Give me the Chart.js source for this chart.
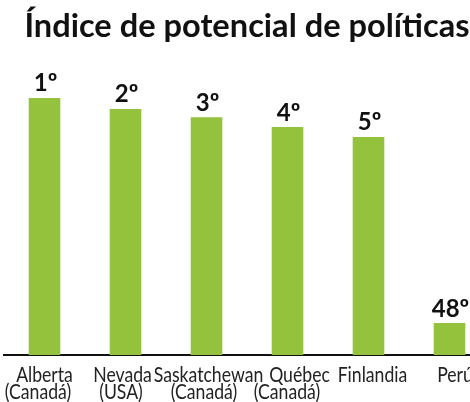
<!DOCTYPE html>
<html>
<head>
<meta charset="utf-8">
<script src="https://cdn.jsdelivr.net/npm/chart.js@4.4.1/dist/chart.umd.min.js"></script>
<style>
    html, body { margin: 0; padding: 0; background: #fff; overflow: hidden; }
    #wrap { width: 490px; height: 402px; }
</style>
</head>
<body>
<div id="wrap"><canvas id="policyChart" width="490" height="402"></canvas></div>
<script>
// values (bar heights on a 0-100 scale)
const categories = [
    ['Alberta', '(Canadá)'],
    ['Nevada', '(USA)'],
    ['Saskatchewan', '(Canadá)'],
    ['Québec', '(Canadá)'],
    ['Finlandia'],
    ['Perú'],
];
const indexValues = [93.5, 89.5, 86.5, 82.9, 79.3, 11.6];
const rankLabels = ['1º', '2º', '3º', '4º', '5º', '48º'];
const titleText = 'Índice de potencial de políticas';

const BAR_GREEN = '#94c23c';
const INK = '#111111';

// the original places its axis labels by hand, a few px off centre (per line)
const LABEL_NUDGE = [[0, -6.5], [-3, -4.5], [2, -2.5], [12, -0.5], [4], [5.5]];
// axis labels use a condensed face; squeeze Lato horizontally to get close
const LABEL_SQUEEZE = 0.86;

// rank text above each bar
const rankLabelPlugin = {
    id: 'rankLabels',
    afterDatasetsDraw(chart) {
        const ctx = chart.ctx;
        const meta = chart.getDatasetMeta(0);
        ctx.save();
        ctx.font = '700 24px Lato, "Open Sans", sans-serif';
        ctx.fillStyle = INK;
        ctx.textAlign = 'center';
        ctx.textBaseline = 'alphabetic';
        meta.data.forEach((bar, i) => {
            ctx.fillText(rankLabels[i], bar.x + 1, bar.y - 6.5);
        });
        ctx.restore();
    },
};

// category names under the axis, anchored on the x scale ticks
const categoryLabelPlugin = {
    id: 'categoryLabels',
    afterDraw(chart) {
        const ctx = chart.ctx;
        const xScale = chart.scales.x;
        const base = chart.chartArea.bottom;
        ctx.save();
        ctx.font = '400 20.5px Lato, sans-serif';
        ctx.fillStyle = '#222';
        ctx.textAlign = 'center';
        ctx.textBaseline = 'alphabetic';
        categories.forEach((lines, i) => {
            const px = xScale.getPixelForTick(i);
            lines.forEach((line, j) => {
                ctx.save();
                ctx.translate(px + LABEL_NUDGE[i][j], base + 26.5 + j * 17);
                ctx.scale(LABEL_SQUEEZE, 1);
                ctx.fillText(line, 0, 0);
                ctx.restore();
            });
        });
        ctx.restore();
    },
};

const el = document.getElementById('policyChart');
new Chart(el.getContext('2d'), {
    type: 'bar',
    data: {
        labels: categories,
        datasets: [
            {
                data: indexValues,
                backgroundColor: BAR_GREEN,
                borderWidth: 0,
                barPercentage: 0.39,
                categoryPercentage: 1,
            },
        ],
    },
    options: {
        responsive: false,
        animation: false,
        layout: { padding: { left: 4, right: 0, top: 0, bottom: 0 } },
        plugins: {
            legend: { display: false },
            tooltip: { enabled: false },
            title: {
                display: true,
                text: titleText,
                color: INK,
                font: { family: 'Lato, "Open Sans", sans-serif', size: 32.6, weight: '700', lineHeight: 1.2 },
                padding: { top: 7, bottom: 33.9 },
            },
        },
        scales: {
            x: {
                z: 1,
                grid: { display: false, drawTicks: false },
                border: { display: true, color: INK, width: 2 },
                ticks: { display: false },
                afterFit(scale) {
                    scale.height = 47;
                    scale.paddingLeft = 0;
                    scale.paddingRight = 0;
                },
            },
            y: {
                display: false,
                min: 0,
                max: 100,
            },
        },
    },
    plugins: [rankLabelPlugin, categoryLabelPlugin],
});
</script>
</body>
</html>
